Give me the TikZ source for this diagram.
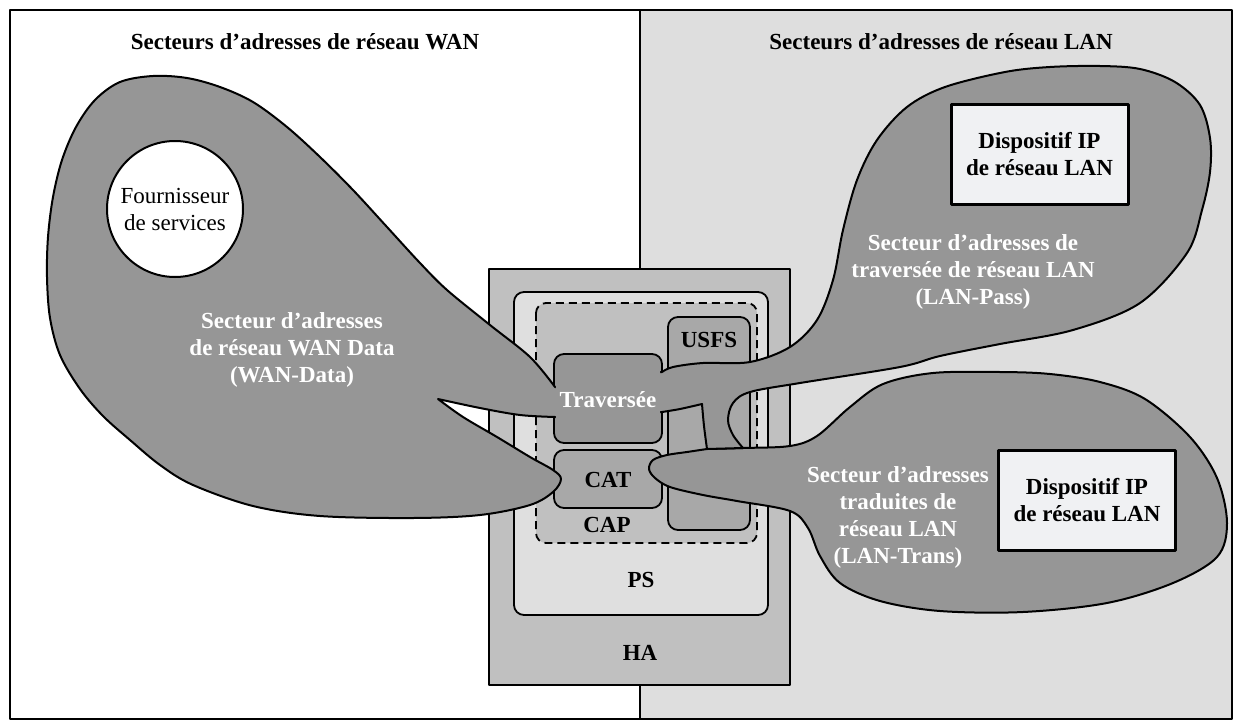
\documentclass[tikz,border=0pt]{standalone}
\usepackage{fontspec}
\setmainfont{Liberation Serif}
\definecolor{blobgray}{RGB}{150,150,150}
\definecolor{lanbg}{RGB}{222,222,222}
\definecolor{hagray}{RGB}{192,192,192}
\definecolor{psgray}{RGB}{223,223,223}
\definecolor{capgray}{RGB}{192,192,192}
\definecolor{midgray}{RGB}{168,168,168}
\definecolor{devfill}{RGB}{240,241,243}
\tikzset{
  blob/.style={fill=blobgray, draw=black, line width=2pt},
  roundbox/.style={draw=black, line width=1.8pt, rounded corners=10pt},
  lbl/.style={font=\fontsize{23}{27}\selectfont\bfseries, inner sep=0pt, align=center},
  wlbl/.style={lbl, text=white},
  devbox/.style={lbl, draw=black, line width=3pt, fill=devfill, minimum width=177pt, minimum height=100pt},
  framebox/.style={draw=black, line width=1.2pt}
}
\begin{document}
\begin{tikzpicture}[x=1pt,y=-1pt,line join=round]
\useasboundingbox (0,0) rectangle (1242,720);
\fill[white] (0,0) rectangle (1242,720);
\fill[lanbg] (640,10) rectangle (1232,719);
\draw[framebox] (10,10) rectangle (1232,719);
\draw[framebox] (640,10) -- (640,719);

% central boxes
\draw[fill=hagray, draw=black, line width=2pt] (489,269) rectangle (790,685);
\draw[roundbox, fill=psgray] (514,292) rectangle (768,615);
\draw[roundbox, fill=capgray, dash pattern=on 8pt off 5pt] (536,303) rectangle (757,543);
\draw[roundbox, fill=midgray] (668,317) rectangle (750,530);
\draw[roundbox, fill=blobgray] (554,354) rectangle (662,443);
\draw[roundbox, fill=midgray] (554,450) rectangle (662,508);

% WAN blob
\draw[blob] plot[smooth, tension=0.55] coordinates {(555,387) (530,357) (490,325) (447,290) (420,263) (387,227) (353,190) (320,157) (287,127) (253,102) (220,87) (187,78) (153,76) (120,82) (95,100) (76,127) (62,160) (53,197) (48,237) (47,277) (50,318) (60,355) (80,389) (103,416) (130,440) (160,465) (193,485) (253,506) (320,516) (413,518) (480,515) (530,505) (553,492) (561,479) (553,470) (530,457) (497,437) (463,417) (438,399)}
  -- plot[smooth, tension=0.55] coordinates {(438,399) (480,408) (520,415) (555,417)}
  -- (575,417) -- (575,387) -- cycle;

% LAN-Trans blob
\draw[blob] plot[smooth, tension=0.55] coordinates {(707,449) (743,448) (790,446) (817,436) (850,407) (883,384) (933,373) (1000,372) (1050,374) (1100,382) (1145,399) (1190,437) (1217,478) (1227,523) (1217,557) (1173,583) (1107,603) (1023,612) (940,611) (880,601) (840,583) (820,556) (808,528) (790,511) (737,501) (703,495) (670,487) (655,478) (649,469) (653,460) (667,455) (687,452) (707,449)} -- cycle;

% LAN-Pass blob
\draw[blob] plot[smooth, tension=0.55] coordinates {(662,372) (673,367) (703,363) (750,362) (790,347) (817,320) (833,280) (843,230) (857,180) (877,140) (907,107) (945,87) (1005,72) (1050,67) (1100,66) (1140,69) (1175,82) (1200,105) (1210,138) (1210,172) (1202,210) (1187,253) (1140,303) (1073,330) (1000,344) (940,356) (900,367) (800,383) (750,392) (733,403) (728,420) (733,435) (743,448)}
  -- (707,449)
  -- plot[smooth, tension=0.55] coordinates {(707,449) (704,426) (702,404)}
  -- plot[smooth, tension=0.55] coordinates {(702,404) (680,409) (662,412)}
  -- (645,412) -- (645,372) -- cycle;

% restore interior of Traversee
\fill[blobgray, rounded corners=9pt] (555.8,355.8) rectangle (660.2,441.2);

% labels in central boxes
\node[wlbl] (trav) at (608,400) {Traversée};
\node[lbl] (cat) at (608,480) {CAT};
\node[lbl] (cap) at (607,525) {CAP};
\node[lbl] (usfs) at (709,340) {USFS};
\node[lbl] (ps) at (641,580) {PS};
\node[lbl] (ha) at (640,653) {HA};

% titles
\node[lbl] (tWAN) at (305,42) {Secteurs d’adresses de réseau WAN};
\node[lbl] (tLAN) at (941,42) {Secteurs d’adresses de réseau LAN};

% WAN side
\node[circle, draw=black, fill=white, line width=2pt, minimum size=136pt, inner sep=0pt, align=center, font=\fontsize{23}{27}\selectfont] (fs) at (175,209) {Fournisseur\\de services};
\node[wlbl] (wan) at (292,350) {Secteur d’adresses\\de réseau WAN Data\\(WAN-Data)};

% LAN side
\node[wlbl] (lpass) at (973,272) {Secteur d’adresses de\\traversée de réseau LAN\\(LAN-Pass)};
\node[wlbl] (ltrans) at (898,517) {Secteur d’adresses\\traduites de\\réseau LAN\\(LAN-Trans)};
\node[devbox] (dev1) at (1039.5,154) {Dispositif IP\\de réseau LAN};
\node[devbox] (dev2) at (1087,500) {Dispositif IP\\de réseau LAN};
\end{tikzpicture}
\end{document}
